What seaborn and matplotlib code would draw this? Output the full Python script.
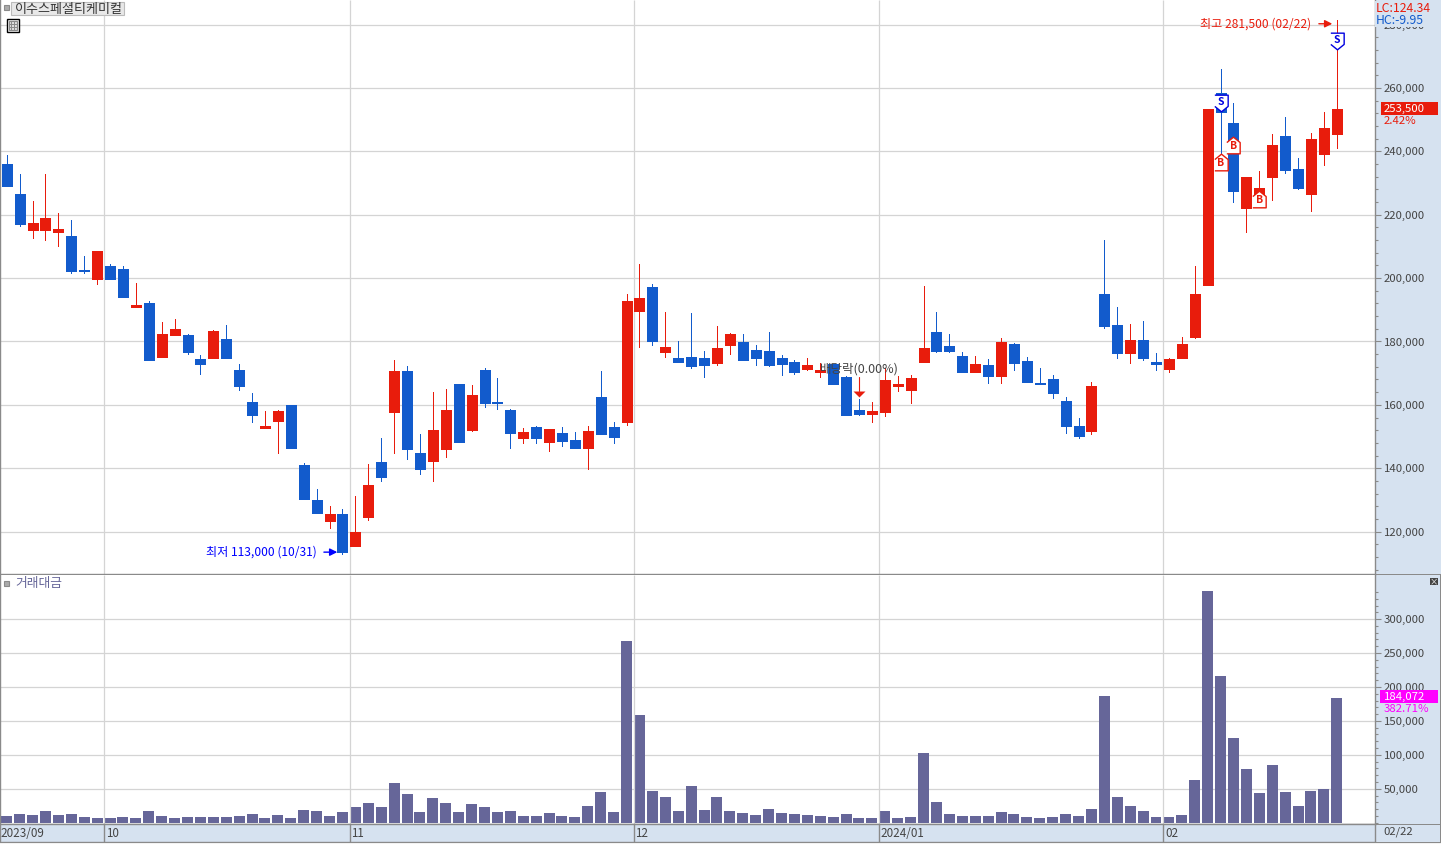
import numpy as np
import pandas as pd
import matplotlib
matplotlib.use('Agg')
import matplotlib.pyplot as plt
from matplotlib.patches import Rectangle
from matplotlib.ticker import FuncFormatter, MultipleLocator
import seaborn as sns

# 가격 데이터 (천원 단위, 그림에서 읽은 값)
open_k = [236.0,226.5,215.2,215.2,214.5,213.3,202.6,199.7,203.8,202.9,190.9,192.1,175.1,182.0,182.0,174.5,174.8,180.8,171.0,160.9,
          152.7,154.9,159.9,141.0,130.0,123.3,125.5,115.4,124.6,141.9,157.7,170.7,144.8,142.3,146.0,166.6,152.0,171.0,160.9,158.4,
          149.5,153.0,148.3,151.1,148.9,146.4,162.5,153.0,154.6,189.6,197.2,176.7,174.8,175.1,174.8,173.2,178.9,179.8,177.3,177.0,
          174.8,173.5,171.3,170.4,172.9,168.8,158.4,157.1,157.7,165.9,164.7,173.5,183.0,178.6,175.4,170.4,172.6,169.1,179.2,173.8,
          166.9,168.2,161.2,153.3,151.7,195.0,185.2,176.4,180.5,173.5,171.3,174.8,181.4,197.8,258.4,249.0,222.1,222.4,231.9,244.8,
          234.4,226.5,239.2,245.5]
high_k = [238.9,232.9,224.3,232.9,220.5,218.3,207.0,208.5,204.4,203.8,198.4,192.8,186.1,187.1,182.4,175.7,183.6,185.2,172.9,163.7,
          158.0,158.4,159.9,141.6,133.4,128.1,127.1,131.2,141.3,149.5,174.1,172.2,150.8,164.0,165.0,166.6,166.3,171.6,168.5,158.7,
          152.7,153.3,152.4,153.0,151.4,153.3,170.7,154.6,195.0,204.4,198.1,189.3,180.1,189.0,177.0,184.9,182.7,182.4,178.9,183.0,
          175.7,174.1,174.8,173.2,172.9,169.1,161.8,160.9,171.6,169.1,169.4,197.5,189.3,182.4,176.7,175.4,174.5,181.1,179.5,175.1,
          171.6,169.4,162.5,155.8,167.2,212.0,190.9,185.5,186.5,176.4,174.8,181.4,203.8,253.5,266.0,255.3,231.9,233.8,245.5,250.8,
          237.9,245.8,252.4,281.5]
low_k = [229.1,216.4,212.7,212.0,210.1,201.6,201.6,198.1,199.7,194.0,190.9,174.1,175.1,182.0,176.0,169.7,174.8,174.8,164.7,154.6,
         152.7,144.8,146.4,130.3,125.9,121.1,113.0,115.4,123.6,136.0,144.8,142.9,138.2,136.0,143.5,148.3,151.7,159.3,158.7,146.4,
         147.9,147.9,145.4,147.0,146.4,139.7,150.8,147.9,153.6,178.2,178.9,175.1,173.5,171.6,168.8,172.6,176.0,174.1,172.6,172.2,
         169.4,169.7,171.0,168.8,166.6,156.8,156.8,154.6,156.5,164.4,160.6,173.5,176.7,176.7,170.4,170.4,166.9,166.9,171.0,167.2,
         166.6,162.1,151.1,149.5,150.8,184.2,174.8,173.2,174.1,171.0,170.4,174.8,181.1,197.8,235.7,224.0,214.5,222.4,224.6,233.2,
         228.1,221.2,235.7,241.1]
close_k = [229.1,217.1,217.4,219.0,215.5,202.2,202.2,208.5,199.7,194.0,191.5,174.1,182.4,183.9,176.7,172.9,183.3,174.8,165.9,156.8,
           153.3,158.0,146.4,130.3,125.9,125.5,113.5,119.9,134.7,137.2,170.7,146.0,139.7,152.0,158.4,148.3,163.1,160.6,160.6,151.1,
           151.4,149.5,152.4,148.6,146.4,151.7,150.8,149.8,192.8,193.7,180.1,178.2,173.5,172.2,172.6,177.9,182.4,174.1,174.8,172.6,
           172.9,170.4,172.6,171.0,166.6,156.8,157.1,158.0,167.8,166.6,168.5,177.9,177.0,177.0,170.4,172.9,169.1,179.8,173.2,167.2,
           166.6,163.7,153.3,150.2,165.9,184.9,176.4,180.5,174.8,172.9,174.5,179.2,195.0,253.5,252.4,227.5,231.9,228.4,242.0,234.1,
           228.4,243.9,247.4,253.5]

# 거래대금
amount = [9800,12800,11300,17200,11300,12800,8400,6900,6900,8400,6900,17200,9800,6900,8400,8400,8400,8400,9800,12800,
          6900,11300,6900,18700,17200,9800,15700,23100,29000,23100,58500,42300,15700,36400,29000,15700,27500,23100,15700,17200,
          9800,9800,14300,9800,8400,24600,45200,15700,268000,158800,46700,37900,17200,54100,18700,37900,17200,14300,11300,20200,
          14300,12800,11300,9800,8400,12800,6900,6900,17200,6900,8400,102800,30500,12800,9800,9800,9800,15700,12800,8400,
          6900,8400,12800,9800,20200,186800,37900,24600,17200,8400,8400,11300,62900,341700,216300,124900,79200,43800,85100,45200,
          24600,46700,49700,184072]

# 월 구분선 위치와 날짜 라벨
month_pos = [7.55, 26.55, 48.55, 67.55, 89.55]
month_lbl = ['10', '11', '12', '2024/01', '02']

# 매매 신호 (캔들 번호, 가격)
sell_sig = [(94, 255.3), (103, 274.8)]
buy_sig = [(94, 236.6), (95, 242.0), (97, 225.0)]

RED = '#e81c0c'
BLUE = '#125bcc'
VOL = '#666699'
BAND = '#d6e2f0'
GRID = '#d4d4d4'
EDGE = '#8a8a8a'
TXT = '#444444'
W, H = 1441, 844

sns.set_style('white')
plt.rcParams['font.family'] = ['Noto Sans CJK KR', 'DejaVu Sans']
plt.rcParams['axes.unicode_minus'] = False

idx = np.arange(len(close_k))
df = pd.DataFrame({'i': idx, 'open': open_k, 'high': high_k, 'low': low_k, 'close': close_k})
df[['open', 'high', 'low', 'close']] *= 1000
df['kind'] = np.where(df['close'] >= df['open'], 'up', 'down')
pal = {'up': RED, 'down': BLUE}

wick = df.melt(id_vars=['i', 'kind'], value_vars=['high', 'low'], value_name='price')
body = df.melt(id_vars=['i', 'kind'], value_vars=['open', 'close'], value_name='price')

fig = plt.figure(figsize=(W / 100, H / 100), dpi=100, facecolor=BAND)


def new_ax(top, bottom):
    return fig.add_axes([0, 1 - bottom / H, 1375 / W, (bottom - top) / H])


ax1 = new_ax(0, 574)
ax2 = new_ax(575, 824)
ax3 = new_ax(824, 842)

# 캔들
sns.lineplot(data=wick, x='i', y='price', hue='kind', units='i', estimator=None, palette=pal, legend=False,
             linewidth=0.7, solid_capstyle='butt', antialiased=False, zorder=3, ax=ax1)
sns.lineplot(data=body, x='i', y='price', hue='kind', units='i', estimator=None, palette=pal, legend=False,
             linewidth=7.7, solid_capstyle='butt', antialiased=False, zorder=4, ax=ax1)

# 거래대금 막대
sns.barplot(x=idx, y=amount, native_scale=True, color=VOL, saturation=1, width=0.85, errorbar=None,
            linewidth=0, antialiased=False, ax=ax2)

xlim = (-0.52, 105.96)
for ax in (ax1, ax2, ax3):
    ax.set_xlim(xlim)
    ax.set_xlabel('')
    ax.set_ylabel('')
    ax.set_xticks([])
    for s in ax.spines.values():
        s.set_color(EDGE)
        s.set_linewidth(1)

ax1.set_ylim(106600, 287800)
ax2.set_ylim(-1900, 365000)

for ax in (ax1, ax2):
    ax.set_facecolor('white')
    ax.set_axisbelow(True)
    ax.yaxis.tick_right()
    ax.yaxis.set_major_formatter(FuncFormatter(lambda v, p: f'{v:,.0f}'))
    ax.tick_params(axis='y', which='major', direction='out', right=True, length=4.5, width=0.8, color=EDGE,
                   labelcolor=TXT, labelsize=8.2, pad=2)
    ax.tick_params(axis='y', which='minor', direction='out', right=True, length=2.2, width=0.8, color=EDGE)
    ax.grid(axis='y', which='major', color=GRID, linewidth=0.9)
    ax.spines['top'].set_visible(False)
    ax.vlines(month_pos, 0, 1, transform=ax.get_xaxis_transform(), color=GRID, linewidth=0.9, zorder=1)

ax1.set_yticks(np.arange(120000, 280001, 20000))
ax1.yaxis.set_minor_locator(MultipleLocator(4000))
ax2.set_yticks(np.arange(50000, 300001, 50000))
ax2.set_yticks(np.arange(0, 340001, 10000), minor=True)

# 날짜 축
ax3.set_facecolor(BAND)
ax3.set_ylim(0, 1)
ax3.set_yticks([])
ax3.vlines(month_pos, 0, 1, color=EDGE, linewidth=1)
ax3.text(-0.45, 0.46, '2023/09', color=TXT, fontsize=8.4, va='center')
for pos, lbl in zip(month_pos, month_lbl):
    ax3.text(pos + 0.14, 0.46, lbl, color=TXT, fontsize=8.4, va='center')

# 최고/최저 표시
ax1.annotate('최고 281,500 (02/22)', xy=(102.65, 280300), xytext=(-15, 0), textcoords='offset points',
             ha='right', va='center', color=RED, fontsize=8.7, zorder=6,
             arrowprops=dict(arrowstyle='-|>', color=RED, lw=1, shrinkA=3, shrinkB=0, mutation_scale=11))
ax1.annotate('최저 113,000 (10/31)', xy=(25.6, 113500), xytext=(-15, 0), textcoords='offset points',
             ha='right', va='center', color='#0000ff', fontsize=8.7, zorder=6,
             arrowprops=dict(arrowstyle='-|>', color='#0000ff', lw=1, shrinkA=3, shrinkB=0, mutation_scale=11))

# 배당락 표시
ax1.plot([66, 66], [168800, 164500], color=RED, lw=0.8, zorder=5)
ax1.plot([66], [163400], marker=[(-1, 0.5), (1, 0.5), (0, -0.5)], ms=8.6, color=RED, mew=0, zorder=5)
ax1.text(63.0, 171400, '배당락(0.00%)', color=TXT, fontsize=9, va='center', ha='left', zorder=6)

# S / B 신호
sell_mark = [(-0.8, 1), (0.8, 1), (0.8, -0.35), (0, -1), (-0.8, -0.35)]
buy_mark = [(x, -y) for x, y in sell_mark]
for x, y in sell_sig:
    ax1.plot([x], [y * 1000], marker=sell_mark, ms=12, mfc='white', mec='#0000e0', mew=1, zorder=7)
    ax1.text(x, y * 1000 + 300, 'S', color='#0000e0', fontsize=7.5, fontweight='bold', ha='center', va='center', zorder=8)
for x, y in buy_sig:
    ax1.plot([x], [y * 1000], marker=buy_mark, ms=12, mfc='white', mec=RED, mew=1, zorder=7)
    ax1.text(x, y * 1000 - 400, 'B', color=RED, fontsize=7.5, fontweight='bold', ha='center', va='center', zorder=8)


def box(x0, y0, x1, y1, fc, ec='none', lw=0.8, z=2):
    fig.add_artist(Rectangle((x0 / W, 1 - y1 / H), (x1 - x0) / W, (y1 - y0) / H, transform=fig.transFigure,
                             facecolor=fc, edgecolor=ec, linewidth=lw, zorder=z))


def label(x, y, s, color, size=8.2, bg=None, ha='left'):
    kw = {}
    if bg:
        kw['bbox'] = dict(facecolor=bg, edgecolor='none', pad=0.6)
    fig.text(x / W, 1 - (y + 1) / H, s, color=color, fontsize=size, va='center', ha=ha, zorder=4, **kw)


# 상단 종목명, 아이콘
box(4, 5, 9, 10, '#aaaaaa', EDGE)
box(11.5, 1.5, 124, 15, '#e8e8e8', '#bbbbbb')
label(15, 8, '이수스페셜티케미컬', '#333333', 9.4)
box(6.5, 19.5, 19, 32, 'white', 'black', 1)
box(8.5, 21.5, 17, 30, '#dddddd', EDGE)
box(11.3, 21.5, 11.9, 30, EDGE)
box(14.1, 21.5, 14.7, 30, EDGE)
box(8.5, 24, 17, 24.6, EDGE)
box(8.5, 27, 17, 27.6, EDGE)

# 거래대금 타이틀
box(4, 581, 9, 586, '#aaaaaa', EDGE)
label(15, 583, '거래대금', VOL, 9.2)
box(1430, 578, 1438, 585, '#444444')
label(1434, 580.5, '×', 'white', 6, ha='center')

# 오른쪽 현재값 표시
label(1376, 7, 'LC:124.34', RED, 8.8, BAND)
label(1376, 19, 'HC:-9.95', BLUE, 8.8, BAND)
box(1381, 102, 1438, 115, RED)
label(1384, 108, '253,500', 'white')
label(1384, 120, '2.42%', RED)
label(1384, 708, '382.71%', '#ff00ff', 8.2, BAND)
box(1380, 690, 1438, 703, '#ff00ff')
label(1384, 696, '184,072', 'white')

# 구분선, 맨 아래 날짜
box(1375, 574, W, 575, EDGE)
box(1375, 823.5, W, 824.5, EDGE)
box(1375, 841.5, W, 842.5, EDGE)
box(1375, 575, 1376, 842, EDGE)
box(1440, 575, 1441, 842, EDGE)
box(0, 842.5, W, H, '#f2f2f2')
label(1383, 831, '02/22', TXT)

plt.savefig('out.png', dpi=100, facecolor=fig.get_facecolor())
plt.close()
